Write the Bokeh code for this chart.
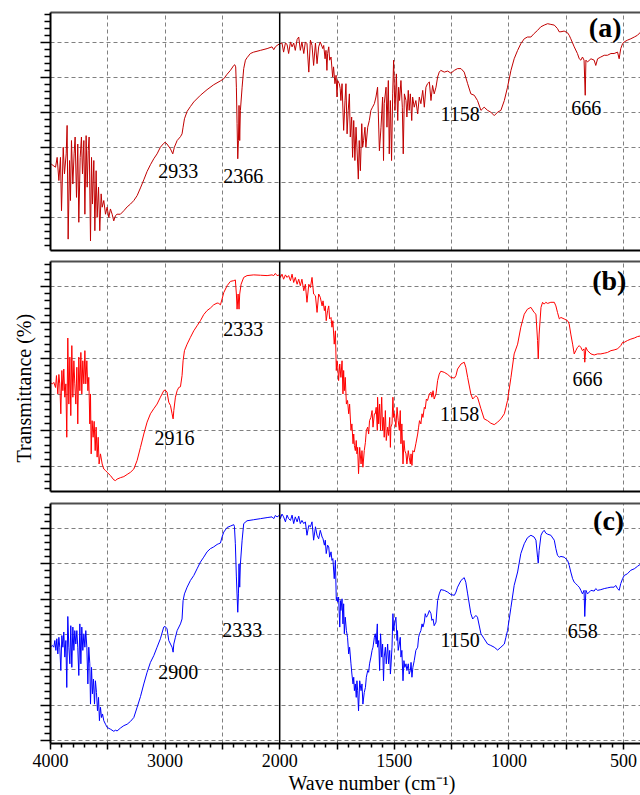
import numpy as np
from bokeh.plotting import figure
from bokeh.models import Range1d, FixedTicker, LinearAxis, Span, Title
from bokeh.layouts import column
from bokeh.embed import file_html
from bokeh.resources import INLINE
from bokeh.core.properties import value

# ---------------- data (wavenumber cm-1, transmittance %) ----------------
wave_a = [3994,3977,3956,3942,3927,3913,3904,3889,3878,3863,
          3855,3846,3834,3826,3817,3805,3794,3785,3773,3762,
          3753,3741,3730,3721,3709,3700,3689,3680,3671,3663,
          3651,3642,3634,3622,3613,3602,3593,3581,3570,3558,
          3549,3535,3520,3506,3491,3477,3462,3448,3433,3419,
          3390,3360,3331,3302,3273,3244,3215,3186,3157,3128,
          3099,3070,3041,3012,3000,2983,2953,2933,2919,2895,
          2866,2852,2843,2831,2808,2779,2750,2692,2634,2576,
          2517,2488,2459,2430,2401,2392,2384,2378,2372,2366,
          2360,2355,2349,2343,2328,2314,2299,2285,2256,2227,
          2168,2110,2067,2052,2038,2023,2000,
          1990,1983,1975,1968,1961,1953,1946,1939,1932,1924,
          1917,1910,1903,1895,1888,1881,1873,1866,1859,1852,
          1844,1837,1830,1823,
          1812,1808,1802,1798,1794,1791,1786,1782,1776,1769,
          1765,1759,1754,1750,1747,1740,1736,1733,1728,1721,
          1715,1711,1706,1701,1696,1692,1686,1682,1677,1672,
          1667,1663,1657,1653,1648,1642,1638,1634,1628,1624,
          1616,1609,1602,1595,1587,1580,1573,1565,1558,1551,
          1547,1544,1536,1532,1526,1522,1517,1512,1507,1503,
          1500,1497,1491,1485,1481,1477,1471,1465,1461,1456,
          1449,1445,1439,1435,1430,1424,1420,1413,1406,1398,
          1391,1384,1376,1369,1362,1355,1347,1340,1333,1326,
          1318,1311,1304,1297,1282,1267,1253,1238,1224,1209,
          1195,1180,1166,1151,1137,1122,1108,1093,1079,1064,
          1049,1035,1020,1006,991,977,962,948,933,919,
          904,890,875,861,846,831,817,802,788,781,
          773,759,744,737,730,715,701,693,686,679,
          672,667,664,657,642,628,621,613,599,584,
          570,555,541,526,519,512,504,497,483,468,
          453,439,424]
trans_a = [25.3,24.9,24.4,27.2,20.6,27.2,12.0,30.1,22.5,28.2,
           36.3,3.9,26.3,14.9,32.0,19.6,28.2,33.0,15.8,31.0,
           8.7,27.2,33.0,22.5,32.0,11.0,33.4,18.7,29.1,33.0,
           3.4,27.2,13.9,26.3,6.3,23.4,10.1,18.7,6.3,16.8,
           13.0,14.9,11.0,13.0,10.1,12.5,11.0,9.1,10.6,11.0,
           11.0,12.0,13.1,13.9,14.9,16.3,18.5,20.8,23.2,25.1,
           26.8,28.2,30.1,31.2,31.5,31.0,29.6,28.2,30.1,32.0,
           33.1,33.9,35.8,38.2,40.3,41.7,43.0,44.9,46.5,47.9,
           49.0,49.6,50.9,52.0,53.4,53.6,53.0,47.2,36.8,26.8,
           32.0,42.0,32.0,40.6,47.2,52.5,54.9,55.6,56.8,57.2,
           57.7,58.2,58.7,57.9,58.7,59.1,59.6,
           59.8,57.2,59.8,59.4,56.8,60.1,58.7,59.8,57.7,60.8,
           61.5,57.7,60.1,56.8,60.1,59.6,51.5,60.6,59.1,53.4,
           59.8,53.9,58.7,60.1,
           58.2,59.1,55.3,57.7,52.0,56.8,58.7,54.9,55.8,50.1,
           53.0,48.2,50.6,44.4,49.1,48.2,46.8,43.4,48.2,34.9,
           43.4,48.2,33.9,40.6,45.3,33.0,38.7,27.2,37.7,26.3,
           35.8,30.1,21.0,32.0,23.4,36.8,30.1,32.0,35.8,30.1,
           35.8,37.7,40.6,41.5,42.5,44.4,47.2,29.1,35.8,44.4,
           26.3,42.5,47.2,35.8,49.1,28.2,43.4,26.3,45.3,54.9,
           47.2,40.6,51.0,37.7,47.2,43.4,49.1,41.5,28.2,45.3,
           43.4,38.7,46.3,40.6,45.3,37.7,44.4,41.5,43.4,39.6,
           44.4,42.5,46.3,41.5,47.2,48.2,48.7,43.4,47.7,45.3,
           47.2,50.1,51.5,52.0,51.5,51.8,51.2,52.0,52.5,52.5,
           51.5,48.2,45.3,44.9,43.4,40.6,41.5,40.6,40.1,39.1,
           40.1,40.6,43.4,47.2,52.0,55.3,57.7,59.6,61.0,61.5,
           61.5,62.5,63.4,64.4,64.9,65.3,65.1,64.9,63.9,63.0,
           63.0,63.2,62.7,62.0,61.0,58.7,56.8,55.3,54.9,55.8,
           54.9,44.9,54.9,54.4,55.3,54.9,53.4,55.3,55.8,56.3,
           56.3,56.8,56.8,57.2,55.3,58.2,59.6,60.1,60.6,61.0,
           61.5,62.0,63.0]

wave_b = [3994,3983,3971,3956,3948,3936,3927,3919,3910,3901,
          3892,3884,3875,3866,3858,3849,3840,3831,3823,3814,
          3805,3796,3788,3779,3770,3762,3753,3744,3735,3727,
          3718,3709,3700,3692,3683,3674,3666,3657,3651,3645,
          3637,3628,3619,3610,3602,3593,3584,3576,3564,3549,
          3535,3520,3506,3477,3448,3433,3419,3390,3360,3331,
          3302,3273,3244,3215,3186,3157,3128,3099,3070,3041,
          3012,3000,2983,2968,2953,2939,2930,2924,2910,2895,
          2881,2866,2852,2843,2831,2808,2779,2750,2721,2692,
          2663,2634,2605,2576,2546,2532,2517,2503,2488,2459,
          2430,2401,2387,2378,2372,2363,2355,2349,2337,2314,
          2285,2227,2168,2110,2067,2052,2038,2023,2000,
          1997,1990,1983,1975,1968,1961,1953,1946,1939,1932,
          1924,1917,1910,1903,1895,1888,1881,1873,1866,1859,
          1852,1844,1837,1830,1823,
          1815,1811,1805,1801,1797,1791,1786,1782,1776,1772,
          1768,1762,1757,1753,1750,1747,1743,1738,1733,1728,
          1724,1721,1718,1714,1709,1704,1699,1695,1689,1685,
          1680,1677,1674,1670,1666,1663,1660,1656,1651,1645,
          1641,1637,1631,1626,1622,1616,1612,1608,1602,1597,
          1593,1587,1583,1579,1574,1573,1568,1564,1560,1555,
          1551,1547,1544,1539,1535,1529,1525,1520,1517,1515,
          1510,1506,1503,1499,1493,1488,1483,1478,1474,1471,
          1467,1462,1458,1454,1449,1445,1439,1435,1430,1427,
          1423,1419,1413,1406,1398,1394,1390,1384,1379,1375,
          1369,1365,1360,1355,1347,1340,1336,1331,1326,1318,
          1311,1304,1297,1282,1267,1253,1238,1231,1224,1209,
          1195,1188,1180,1166,1158,1151,1144,1137,1122,1108,
          1093,1079,1064,1049,1035,1020,1013,1006,991,977,
          962,948,933,919,904,890,882,875,872,868,
          860,853,846,839,831,817,802,795,788,780,
          773,759,744,737,730,722,715,708,701,693,
          686,679,672,669,664,657,642,628,613,599,
          584,570,555,541,526,512,504,497,483,468,
          453,439,424]
trans_b = [33.2,33.0,33.4,32.0,35.3,30.2,35.6,33.0,24.7,36.7,
           31.1,37.1,29.3,33.0,18.2,45.7,27.4,40.4,24.2,43.6,
           29.3,39.4,33.0,27.4,37.6,21.9,40.4,31.1,41.7,30.2,
           39.4,33.0,42.2,33.0,39.4,31.1,34.8,21.9,30.2,13.6,
           22.8,18.2,22.6,14.5,21.0,12.7,18.2,10.8,13.6,10.8,
           9.4,9.0,8.5,7.6,6.4,6.2,6.6,7.0,7.3,7.9,
           8.5,9.4,11.8,15.4,19.1,22.4,24.7,26.1,27.4,29.3,
           31.1,31.3,30.7,27.9,27.0,24.7,23.3,25.6,29.3,31.1,
           32.0,32.2,35.3,39.4,42.2,44.0,45.9,47.7,49.1,50.5,
           52.2,53.3,54.0,54.9,55.4,55.3,54.9,56.5,58.3,60.2,
           61.4,61.6,61.8,57.9,53.7,57.9,53.7,57.9,60.6,62.5,
           63.0,63.2,63.1,63.0,63.2,63.0,63.6,63.0,63.2,
           62.5,63.4,62.0,63.2,62.5,63.0,61.6,63.4,61.1,62.5,
           60.6,62.0,60.2,62.0,58.8,60.6,55.6,60.6,59.7,62.5,
           57.9,57.4,52.8,57.9,57.0,
           54.6,56.0,53.3,54.6,50.5,53.3,54.6,51.0,51.4,48.7,
           50.5,44.0,47.7,36.7,39.4,38.0,33.9,38.5,34.8,39.4,
           30.2,36.7,31.1,34.8,27.4,28.4,24.7,27.4,20.1,21.9,
           16.4,19.1,15.9,14.5,17.3,13.6,15.4,8.1,15.4,10.8,
           14.5,9.9,14.5,16.8,20.1,21.0,19.1,22.8,23.7,25.6,
           21.0,24.7,24.7,26.5,20.1,29.3,21.9,27.4,20.1,29.3,
           20.1,23.7,18.2,25.6,17.3,21.0,18.7,23.7,15.4,21.0,
           21.9,29.3,23.7,24.7,21.0,26.5,22.8,20.1,25.6,16.4,
           21.9,10.8,17.3,14.5,13.6,10.8,14.5,12.7,10.8,13.6,
           10.4,14.5,14.1,16.4,19.1,21.0,22.8,21.9,24.7,23.7,
           26.5,26.1,28.8,28.4,30.2,30.7,29.3,31.1,28.8,30.2,
           33.9,35.7,36.5,36.2,35.6,34.8,34.6,35.3,37.1,38.5,
           39.0,37.6,34.8,30.2,28.8,29.3,29.7,29.3,26.1,23.3,
           22.8,22.1,21.7,22.4,23.3,24.7,26.5,28.4,34.8,41.3,
           44.0,48.7,52.3,53.7,54.2,52.8,52.3,45.0,39.9,46.8,
           54.2,55.6,55.1,55.6,55.3,55.6,55.6,54.6,52.8,51.0,
           51.4,51.0,50.5,49.6,46.8,44.0,41.3,42.2,43.1,43.6,
           43.1,42.2,42.7,39.0,43.1,42.2,41.3,41.0,41.3,41.3,
           41.5,41.7,42.2,42.4,42.7,43.6,44.5,44.5,45.0,45.4,
           45.7,46.1,46.3]

wave_c = [3994,3983,3971,3962,3953,3945,3936,3927,3919,3910,
          3901,3892,3884,3875,3866,3858,3849,3840,3831,3823,
          3814,3805,3796,3788,3779,3770,3762,3753,3744,3735,
          3727,3718,3709,3700,3692,3683,3674,3666,3657,3651,
          3642,3634,3625,3616,3608,3599,3590,3581,3573,3564,
          3555,3546,3535,3520,3506,3477,3448,3433,3419,3390,
          3360,3331,3302,3273,3244,3215,3186,3157,3128,3099,
          3070,3041,3012,3000,2983,2968,2953,2939,2930,2924,
          2910,2895,2866,2852,2843,2831,2808,2779,2750,2721,
          2692,2663,2634,2605,2576,2546,2532,2517,2503,2488,
          2459,2430,2401,2395,2387,2378,2366,2360,2355,2349,
          2343,2328,2314,2285,2227,2168,2110,2067,2052,2038,
          2023,2000,
          1997,1990,1983,1975,1968,1961,1953,1946,1939,1932,
          1924,1917,1910,1903,1895,1888,1881,1873,1866,1859,
          1852,1844,1837,1830,1823,
          1815,1811,1805,1801,1797,1791,1786,1782,1776,1772,
          1768,1762,1757,1753,1750,1747,1743,1738,1735,1733,
          1728,1724,1721,1718,1714,1709,1704,1699,1695,1689,
          1685,1680,1677,1674,1670,1666,1663,1660,1656,1651,
          1645,1641,1637,1631,1626,1622,1616,1612,1608,1602,
          1597,1593,1587,1583,1579,1574,1573,1568,1564,1560,
          1555,1551,1547,1544,1539,1535,1529,1525,1520,1517,
          1515,1510,1506,1503,1499,1493,1488,1486,1483,1478,
          1474,1471,1467,1462,1458,1454,1449,1445,1439,1435,
          1430,1427,1423,1419,1413,1406,1398,1394,1390,1384,
          1379,1375,1369,1365,1360,1355,1347,1340,1336,1331,
          1326,1318,1311,1304,1297,1282,1267,1253,1238,1231,
          1224,1209,1195,1188,1180,1166,1158,1151,1144,1137,
          1122,1108,1093,1079,1064,1049,1035,1020,1013,1006,
          991,977,962,948,933,919,904,890,882,875,
          872,868,860,853,846,839,831,817,802,795,
          788,780,773,759,744,737,730,722,715,708,
          701,693,686,679,672,669,664,657,642,628,
          621,613,599,584,570,555,541,534,526,519,
          512,504,497,483,468,453,439,424]
trans_c = [36.6,36.9,36.4,38.3,35.5,38.8,34.5,39.2,36.4,29.8,
           39.7,36.4,40.7,33.6,38.3,25.0,45.1,36.4,31.7,42.5,
           30.7,42.1,35.5,41.1,37.3,41.1,36.4,28.4,43.0,31.7,
           42.1,35.5,40.2,36.4,41.1,36.4,26.0,36.4,31.7,20.3,
           30.7,23.2,27.4,20.3,26.9,23.6,18.4,22.2,15.6,19.4,
           16.5,17.5,15.6,14.6,13.7,13.2,12.6,12.9,12.7,13.5,
           14.2,14.6,15.4,16.5,19.4,22.4,26.0,29.3,32.1,34.0,
           36.4,38.8,42.1,42.3,41.6,38.3,37.3,36.4,35.0,37.3,
           39.2,41.1,43.0,44.4,49.6,51.5,53.4,55.3,56.7,58.6,
           60.5,61.9,63.4,64.3,64.8,65.5,65.7,65.9,67.6,69.0,
           70.3,70.7,71.1,70.6,65.7,56.3,46.3,51.5,60.0,53.4,
           60.0,66.7,71.4,72.2,72.5,72.8,73.1,73.3,72.8,73.7,
           73.3,73.8,
           72.8,74.1,73.3,71.9,73.8,72.8,72.3,73.8,71.4,73.3,
           71.9,73.5,71.4,72.3,71.4,71.9,68.1,70.9,70.5,71.9,
           66.7,70.5,68.1,67.1,69.5,
           67.6,67.1,65.3,66.7,62.9,65.3,64.8,61.9,63.4,61.0,
           61.5,55.8,61.0,49.6,50.6,49.2,50.6,42.1,49.6,46.8,
           50.1,43.0,48.7,40.2,44.9,41.1,39.2,34.5,36.4,31.7,
           28.8,26.0,27.9,24.1,26.0,22.2,26.9,24.1,18.4,26.9,
           24.1,26.0,20.3,23.6,25.0,27.9,29.8,29.3,31.7,33.6,
           35.5,36.4,39.2,40.2,37.3,43.0,36.4,38.3,29.8,40.2,
           33.6,37.3,26.9,33.6,36.4,31.7,37.3,31.7,35.5,28.8,
           30.7,36.4,45.9,41.1,43.0,44.9,38.3,41.1,35.5,37.3,
           39.2,33.6,35.5,26.9,32.6,30.7,31.7,29.8,31.7,28.8,
           29.8,32.1,27.9,30.7,32.6,35.5,36.4,39.2,40.2,41.1,
           43.0,42.1,43.5,45.9,44.9,45.4,46.8,45.9,44.0,44.4,
           42.5,43.5,49.6,51.5,52.7,52.5,52.0,51.3,51.1,52.0,
           53.4,55.3,56.1,54.8,51.5,45.9,44.4,44.9,45.4,44.9,
           40.2,38.8,37.3,36.9,36.4,35.6,36.4,37.3,39.2,41.1,
           47.7,53.9,57.7,62.9,65.7,67.4,68.1,67.6,66.7,61.9,
           60.2,63.8,68.1,69.0,69.5,68.7,68.4,68.1,66.7,64.3,
           62.4,61.9,62.1,61.9,61.0,59.6,57.7,55.8,54.8,54.4,
           53.9,53.4,52.5,51.5,52.5,45.1,52.5,51.5,52.5,52.3,
           53.0,52.5,52.7,53.0,53.2,53.4,53.4,53.9,53.0,52.5,
           54.4,55.8,56.7,57.2,58.2,58.6,59.3,60.0]

# peak annotations: label text, wavenumber where the text starts, transmittance at text middle
peak_labels_a = ["2933", "2366", "1158", "666"]
peak_wave_a = [3060, 2493, 1298, 728]
peak_trans_a = [23.3, 21.9, 39.6, 41.4]
peak_labels_b = ["2333", "2916", "1158", "666"]
peak_wave_b = [2493, 3092, 1301, 723]
peak_trans_b = [48.3, 18.1, 24.6, 34.3]
peak_labels_c = ["2900", "2333", "1150", "658"]
peak_wave_c = [3060, 2502, 1298, 743]
peak_trans_c = [29.3, 41.2, 38.4, 41.0]

panel_names = ["(a)", "(b)", "(c)"]
panel_name_wave = [580, 562, 565]
panel_name_trans = [64.1, 61.6, 72.35]

tick_waves = [4000, 3500, 3000, 2500, 2000, 1750, 1500, 1250, 1000, 750, 500]
tick_texts = ["4000", "", "3000", "", "2000", "", "1500", "", "1000", "", "500"]

FONT = "Liberation Serif"
PX_PER_UNIT = 57.3
FRAME_W = 590
W = 640


def to_u(w):
    """Broken FTIR axis: 500 cm-1 per unit above 2000, 250 cm-1 per unit below."""
    w = np.asarray(w, dtype=float)
    return np.where(w >= 2000, (4000.0 - w) / 500.0, 4.0 + (2000.0 - w) / 250.0)


tick_u = [float(v) for v in to_u(tick_waves)]


def make_panel(height, top, bottom, y_lo, y_hi, y_major, bottom_ticks):
    p = figure(width=W, height=height,
               x_range=Range1d(0, FRAME_W / PX_PER_UNIT), y_range=Range1d(y_lo, y_hi),
               output_backend="svg", toolbar_location=None,
               min_border_left=W - FRAME_W, min_border_right=0,
               min_border_top=top, min_border_bottom=bottom)
    p.outline_line_color = None
    p.background_fill_color = "white"
    p.border_fill_color = "white"

    y_minor = [v for v in range(0, 80, 2) if v % 10 != 0]
    yax = p.yaxis[0]
    yax.ticker = FixedTicker(ticks=y_major, minor_ticks=y_minor)
    yax.major_label_overrides = {t: "" for t in y_major}
    yax.major_label_text_color = None
    yax.major_label_standoff = 0
    yax.major_tick_out = 10
    yax.major_tick_in = 0
    yax.minor_tick_out = 6
    yax.minor_tick_in = 0
    yax.axis_line_width = 2
    yax.axis_line_color = "black"
    yax.major_tick_line_width = 1.5
    yax.minor_tick_line_width = 1.5

    xax = p.xaxis[0]
    xax.axis_line_width = 2
    xax.axis_line_color = "black"
    if bottom_ticks:
        xax.ticker = FixedTicker(ticks=tick_u,
                                 minor_ticks=[round(i * 0.2, 1) for i in range(51) if i % 5 != 0])
        xax.major_label_overrides = {u: t for u, t in zip(tick_u, tick_texts)}
        xax.major_label_text_font = FONT
        xax.major_label_text_font_size = "18px"
        xax.major_label_text_color = "black"
        xax.major_label_standoff = 4
        xax.major_tick_out = 6
        xax.major_tick_in = 0
        xax.minor_tick_out = 4
        xax.minor_tick_in = 0
        xax.major_tick_line_width = 1.5
        xax.minor_tick_line_width = 1.5
    else:
        xax.ticker = FixedTicker(ticks=[])
        xax.major_label_text_color = None
        xax.major_label_standoff = 0
        xax.major_tick_out = 0
        xax.minor_tick_out = 0

    top_axis = LinearAxis(ticker=FixedTicker(ticks=[]), axis_line_color="#4d4d4d",
                          axis_line_width=2, major_tick_out=0, minor_tick_out=0,
                          major_label_standoff=0, major_label_text_color=None)
    p.add_layout(top_axis, "above")

    p.xgrid.ticker = FixedTicker(ticks=[u for u in tick_u if u not in (0.0, 4.0)])
    p.ygrid.ticker = FixedTicker(ticks=y_major)
    for g in (p.xgrid, p.ygrid):
        g.grid_line_color = "#808080"
        g.grid_line_dash = "4 3"
        g.grid_line_width = 1

    p.add_layout(Span(location=4.0, dimension="height", line_color="black", line_width=1.5))
    return p


def decorate(p, waves, trans, color, labels, lw, lt, name, nw, nt):
    p.line(to_u(waves), trans, line_color=color, line_width=1)
    p.text(x=to_u(lw), y=lt, text=labels, text_font=value(FONT),
           text_font_size=value("20px"), text_align="left",
           text_baseline="middle", text_color="black")
    p.text(x=to_u([nw]), y=[nt], text=[name], text_font=value(FONT),
           text_font_size=value("28px"), text_font_style="bold",
           text_align="center", text_baseline="middle", text_color="black")


pa = make_panel(255, 12, 5, 0.66, 68.49, [10, 20, 30, 40, 50, 60], False)
decorate(pa, wave_a, trans_a, "#c00000", peak_labels_a, peak_wave_a, peak_trans_a,
         panel_names[0], panel_name_wave[0], panel_name_trans[0])

pb = make_panel(242, 6, 6, 3.17, 66.91, [10, 20, 30, 40, 50, 60], False)
decorate(pb, wave_b, trans_b, "#ff0000", peak_labels_b, peak_wave_b, peak_trans_b,
         panel_names[1], panel_name_wave[1], panel_name_trans[1])
pb.add_layout(Title(text="Transmittance (%)", align="left", offset=29, standoff=11,
                    text_font=FONT, text_font_size="20px", text_font_style="normal",
                    text_color="black"), "left")

pc = make_panel(298, 6, 52, 9.14, 77.09, [10, 20, 30, 40, 50, 60, 70], True)
decorate(pc, wave_c, trans_c, "#0000ff", peak_labels_c, peak_wave_c, peak_trans_c,
         panel_names[2], panel_name_wave[2], panel_name_trans[2])
pc.add_layout(Title(text="Wave number (cm\u207b\u00b9)", align="left", offset=238,
                    standoff=0, text_font=FONT, text_font_size="20px",
                    text_font_style="normal", text_color="black"), "below")

layout = column(pa, pb, pc)
open("out.html", "w").write(file_html(layout, INLINE))
